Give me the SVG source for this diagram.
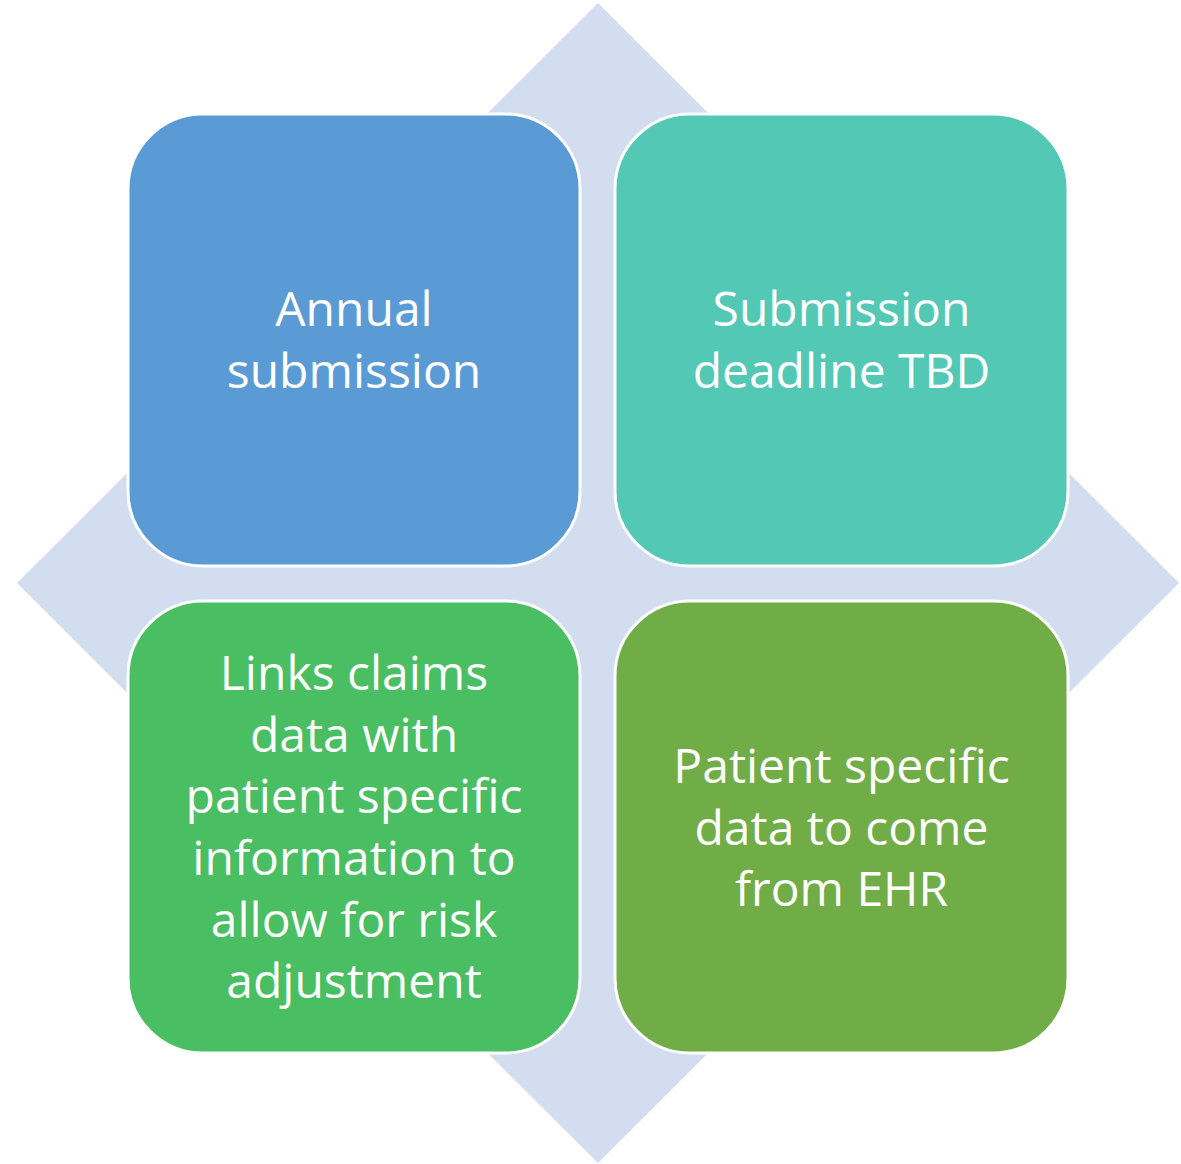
<svg xmlns="http://www.w3.org/2000/svg" width="1181" height="1164" viewBox="0 0 1181 1164">
  <style>
    .box { stroke: #ffffff; stroke-width: 3; }
    .lbl { font-family: "Open Sans", "Liberation Sans", sans-serif; font-size: 48px; fill: #ffffff; text-anchor: middle; }
  </style>
  <!-- background diamond -->
  <polygon points="598,3 1179,583 598,1163 17,583" fill="#D2DEEF"/>
  <g id="connectors"></g>
  <g id="node-annual">
    <rect class="box" x="128" y="114" width="452" height="452" rx="75" fill="#5B9BD5"/>
    <text class="lbl" x="354"><tspan x="354" y="326">Annual</tspan><tspan x="354" y="388">submission</tspan></text>
  </g>
  <g id="node-deadline">
    <rect class="box" x="615" y="114" width="453" height="452" rx="75" fill="#53C8B5"/>
    <text class="lbl"><tspan x="841.5" y="326">Submission</tspan><tspan x="841.5" y="388">deadline TBD</tspan></text>
  </g>
  <g id="node-links">
    <rect class="box" x="128" y="601" width="452" height="452" rx="75" fill="#4ABE63"/>
    <text class="lbl"><tspan x="354" y="690">Links claims</tspan><tspan x="354" y="752">data with</tspan><tspan x="354" y="813">patient specific</tspan><tspan x="354" y="875">information to</tspan><tspan x="354" y="937">allow for risk</tspan><tspan x="354" y="998">adjustment</tspan></text>
  </g>
  <g id="node-ehr">
    <rect class="box" x="615" y="601" width="453" height="452" rx="75" fill="#70AD47"/>
    <text class="lbl"><tspan x="841.5" y="783">Patient specific</tspan><tspan x="841.5" y="845">data to come</tspan><tspan x="841.5" y="906">from EHR</tspan></text>
  </g>
</svg>
